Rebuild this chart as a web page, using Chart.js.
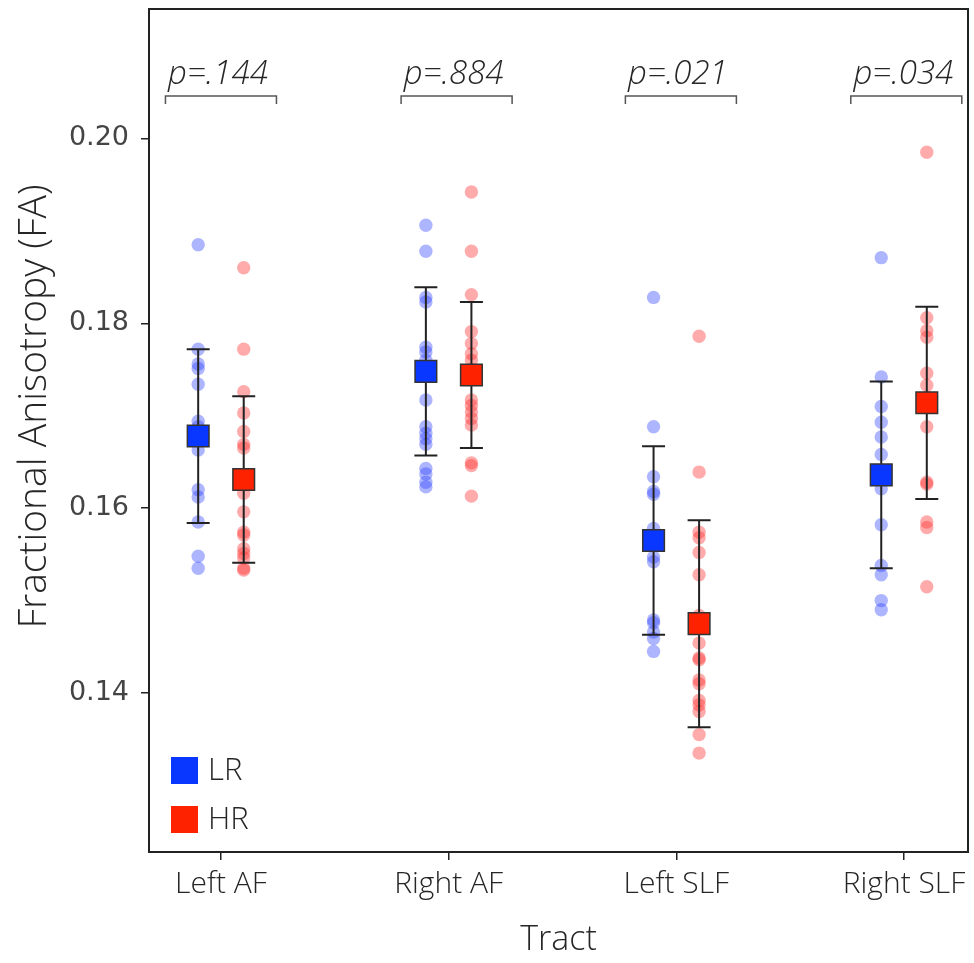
<!DOCTYPE html>
<html>
<head>
<meta charset="utf-8">
<script src="https://cdn.jsdelivr.net/npm/chart.js@4.4.0/dist/chart.umd.min.js"></script>
<style>
  html, body { margin: 0; padding: 0; background: #fff; }
  #wrap { width: 974px; height: 963px; position: relative; }
</style>
</head>
<body>
<div id="wrap"><canvas id="faChart"></canvas></div>
<script>
// tracts on the x axis
const categories = ["Left AF", "Right AF", "Left SLF", "Right SLF"];
const yTicks = [0.14, 0.16, 0.18, 0.20];
const pValues = ["p=.144", "p=.884", "p=.021", "p=.034"];
const bracketX = [0, 1.035, 2.02, 3.01];

// individual subjects, LR group
const lrLeftAF = [0.1885, 0.1772, 0.1756, 0.1751, 0.1734, 0.1694, 0.1688, 0.1663, 0.1620, 0.1612, 0.1585, 0.1548, 0.1535];
const lrRightAF = [0.1906, 0.1878, 0.1828, 0.1823, 0.1774, 0.1769, 0.1760, 0.1717, 0.1688, 0.1681, 0.1675, 0.1669, 0.1643, 0.1637, 0.1628, 0.1623];
const lrLeftSLF = [0.1828, 0.1688, 0.1634, 0.1618, 0.1615, 0.1578, 0.1547, 0.1542, 0.1479, 0.1476, 0.1466, 0.1459, 0.1445];
const lrRightSLF = [0.1871, 0.1742, 0.1710, 0.1693, 0.1677, 0.1658, 0.1640, 0.1621, 0.1582, 0.1538, 0.1528, 0.1500, 0.1490];

// individual subjects, HR group
const hrLeftAF = [0.1860, 0.1772, 0.1726, 0.1703, 0.1683, 0.1669, 0.1665, 0.1616, 0.1596, 0.1574, 0.1571, 0.1556, 0.1551, 0.1546, 0.1535, 0.1533];
const hrRightAF = [0.1942, 0.1878, 0.1831, 0.1791, 0.1778, 0.1767, 0.1760, 0.1750, 0.1717, 0.1711, 0.1704, 0.1697, 0.1690, 0.1649, 0.1646, 0.1613];
const hrLeftSLF = [0.1786, 0.1639, 0.1574, 0.1568, 0.1552, 0.1528, 0.1484, 0.1454, 0.1438, 0.1436, 0.1414, 0.1410, 0.1392, 0.1387, 0.1380, 0.1355, 0.1335];
const hrRightSLF = [0.1985, 0.1806, 0.1792, 0.1785, 0.1746, 0.1733, 0.1720, 0.1688, 0.1628, 0.1626, 0.1585, 0.1579, 0.1515];

// group means and SD (error bars)
const lrMean = [0.1678, 0.1748, 0.1565, 0.1636];
const hrMean = [0.1631, 0.1744, 0.1475, 0.1714];
const lrSd = [0.0094, 0.0091, 0.0102, 0.0101];
const hrSd = [0.0090, 0.0079, 0.0112, 0.0104];

const lrPoints = [lrLeftAF, lrRightAF, lrLeftSLF, lrRightSLF];
const hrPoints = [hrLeftAF, hrRightAF, hrLeftSLF, hrRightSLF];
const offset = 0.1;

const BLUE = "#0a37ff";
const RED = "#ff2200";
const TEXT = "#262626";
const FONT = "'Open Sans', 'Lato', sans-serif";

function toPoints(groups, dx) {
  const out = [];
  groups.forEach((vals, i) => vals.forEach(v => out.push({ x: i + dx, y: v })));
  return out;
}

// error bars, brackets, legend, frame
const extrasPlugin = {
  id: "extras",
  beforeDatasetDraw(chart, args) {
    if (args.index !== 1) return;
    const ctx = chart.ctx;
    const xs = chart.scales.x, ys = chart.scales.y;
    ctx.save();
    ctx.strokeStyle = "#222";
    ctx.lineWidth = 2;
    const groups = [[lrMean, lrSd, -offset], [hrMean, hrSd, offset]];
    groups.forEach(([m, sd, dx]) => {
      m.forEach((mean, i) => {
        const x = xs.getPixelForValue(i + dx);
        const yTop = ys.getPixelForValue(mean + sd[i]);
        const yBot = ys.getPixelForValue(mean - sd[i]);
        ctx.beginPath();
        ctx.moveTo(x, yTop); ctx.lineTo(x, yBot);
        ctx.moveTo(x - 11.5, yTop); ctx.lineTo(x + 11.5, yTop);
        ctx.moveTo(x - 11.5, yBot); ctx.lineTo(x + 11.5, yBot);
        ctx.stroke();
      });
    });
    ctx.restore();
  },
  afterDraw(chart) {
    const ctx = chart.ctx;
    const a = chart.chartArea;
    const xs = chart.scales.x, ys = chart.scales.y;
    ctx.save();

    // box round the plot
    ctx.strokeStyle = "#222";
    ctx.lineWidth = 2;
    ctx.strokeRect(a.left, a.top, a.right - a.left, a.bottom - a.top);

    // p-value brackets
    const by = ys.getPixelForValue(0.2046);
    ctx.lineWidth = 1.5;
    ctx.strokeStyle = "#555";
    ctx.fillStyle = TEXT;
    ctx.font = "italic 300 33px " + FONT;
    ctx.textAlign = "center";
    ctx.textBaseline = "alphabetic";
    bracketX.forEach((bx, i) => {
      const cx = xs.getPixelForValue(bx);
      const half = 55.5;
      ctx.beginPath();
      ctx.moveTo(cx - half, by + 8);
      ctx.lineTo(cx - half, by);
      ctx.lineTo(cx + half, by);
      ctx.lineTo(cx + half, by + 8);
      ctx.stroke();
      ctx.fillText(pValues[i], cx - 3, by - 12);
    });

    // legend
    const lx = a.left + 22;
    const items = [["LR", BLUE, a.bottom - 95], ["HR", RED, a.bottom - 46]];
    ctx.font = "300 31px " + FONT;
    ctx.textAlign = "left";
    ctx.textBaseline = "middle";
    items.forEach(([label, col, y]) => {
      ctx.fillStyle = col;
      ctx.fillRect(lx, y, 27, 27);
      ctx.fillStyle = TEXT;
      ctx.fillText(label, lx + 37, y + 14);
    });

    // y axis title
    ctx.translate(35, (a.top + a.bottom) / 2 - 24);
    ctx.rotate(-Math.PI / 2);
    ctx.textAlign = "center";
    ctx.font = "300 39px " + FONT;
    ctx.fillText("Fractional Anisotropy (FA)", 0, 0);
    ctx.restore();
  }
};

const ctx = document.getElementById("faChart");
new Chart(ctx, {
  type: "scatter",
  data: {
    datasets: [
      {
        label: "LR mean",
        data: lrMean.map((v, i) => ({ x: i - offset, y: v })),
        pointStyle: "rect",
        pointRadius: 15.3,
        backgroundColor: BLUE,
        borderColor: "#333",
        borderWidth: 1.5
      },
      {
        label: "HR mean",
        data: hrMean.map((v, i) => ({ x: i + offset, y: v })),
        pointStyle: "rect",
        pointRadius: 15.3,
        backgroundColor: RED,
        borderColor: "#333",
        borderWidth: 1.5
      },
      {
        label: "LR",
        data: toPoints(lrPoints, -offset),
        pointRadius: 6.7,
        backgroundColor: "rgba(40, 60, 255, 0.38)",
        borderWidth: 0
      },
      {
        label: "HR",
        data: toPoints(hrPoints, offset),
        pointRadius: 6.7,
        backgroundColor: "rgba(255, 45, 45, 0.4)",
        borderWidth: 0
      }
    ]
  },
  options: {
    responsive: true,
    maintainAspectRatio: false,
    animation: false,
    layout: { autoPadding: false, padding: { top: 9, right: 6, left: 0, bottom: 0 } },
    plugins: {
      legend: { display: false },
      tooltip: { enabled: false }
    },
    scales: {
      x: {
        type: "linear",
        min: -0.316,
        max: 3.281,
        afterBuildTicks: (axis) => { axis.ticks = categories.map((c, i) => ({ value: i })); },
        afterFit: (axis) => {
          axis.height = 111;
          axis.paddingLeft = 0;
          axis.paddingRight = 0;
        },
        ticks: {
          callback: (v) => categories[v],
          font: { family: FONT, size: 30, weight: 300 },
          color: TEXT,
          padding: 6,
          maxRotation: 0
        },
        grid: { drawOnChartArea: false, drawTicks: true, tickLength: 8, color: "#222", lineWidth: 1.5 },
        border: { display: true, color: "#222", width: 2 },
        title: {
          display: true,
          text: "Tract",
          font: { family: FONT, size: 34, weight: 300 },
          color: TEXT,
          padding: { top: 0, bottom: 2 }
        }
      },
      y: {
        min: 0.1228,
        max: 0.2140,
        afterBuildTicks: (axis) => { axis.ticks = yTicks.map(v => ({ value: v })); },
        afterFit: (axis) => {
          axis.width = 149;
          axis.paddingTop = 0;
          axis.paddingBottom = 0;
        },
        ticks: {
          callback: (v) => v.toFixed(2),
          font: { family: "'DejaVu Sans', sans-serif", size: 27 },
          color: "#444",
          padding: 12
        },
        grid: { drawOnChartArea: false, drawTicks: true, tickLength: 8, color: "#222", lineWidth: 1.5 },
        border: { display: true, color: "#222", width: 2 }
      }
    }
  },
  plugins: [extrasPlugin]
});
</script>
</body>
</html>
